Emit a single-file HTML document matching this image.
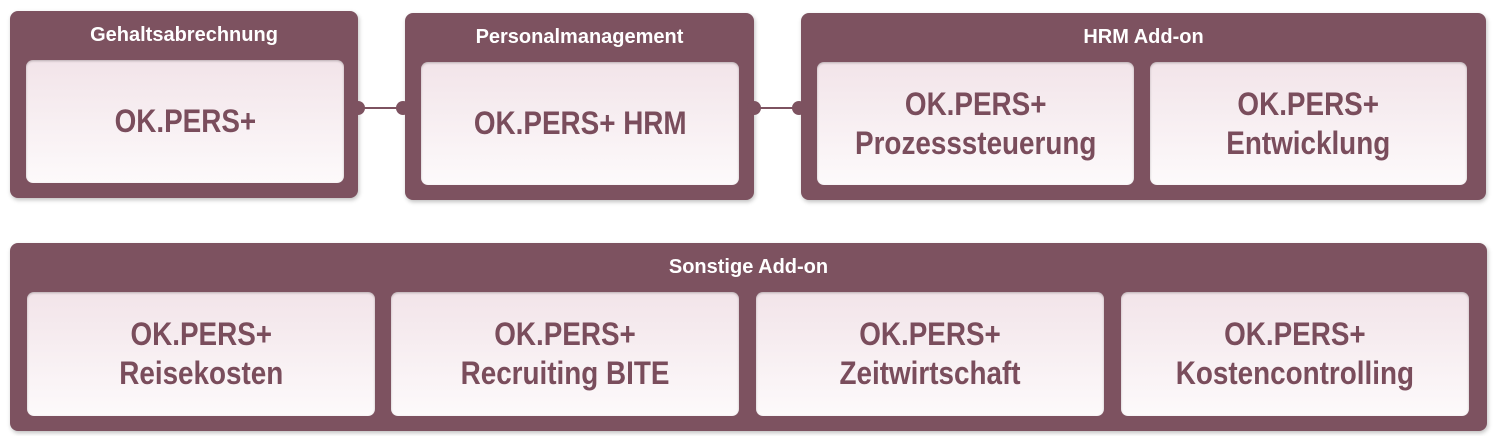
<!DOCTYPE html>
<html><head><meta charset="utf-8"><style>
body{margin:0;width:1500px;height:436px;background:#fff;position:relative;overflow:hidden;font-family:"Liberation Sans",sans-serif;font-weight:bold}
.o{position:absolute;background:#7d5260;border-radius:8px;box-shadow:1px 2px 4px rgba(0,0,0,.25)}
.h{position:absolute;color:#fff;font-size:20px;text-align:center;left:0;right:0;top:13px;transform:scaleX(1.0)}
.i{position:absolute;border-radius:7px;background:linear-gradient(#f2e4e9,#fdfafb);box-shadow:inset 0 1px 2px rgba(0,0,0,.25);display:flex;align-items:center;justify-content:center;text-align:center;color:#7a4d5c;font-size:32px;line-height:39px}
.i span{display:inline-block;transform:scaleX(.87)}
.d{position:absolute;width:14px;height:14px;border-radius:50%;background:#7d5260}
.l{position:absolute;height:1.5px;background:#7d5260}
</style></head><body>
<div class="o" style="left:10px;top:11px;width:348px;height:187px"><div class="h">Gehaltsabrechnung</div></div>
<div class="o" style="left:405px;top:13px;width:349px;height:187px"><div class="h">Personalmanagement</div></div>
<div class="o" style="left:801px;top:13px;width:685px;height:187px"><div class="h">HRM Add-on</div></div>
<div class="o" style="left:10px;top:243px;width:1477px;height:188px"><div class="h">Sonstige Add-on</div></div>
<div class="l" style="left:360px;top:107px;width:44px"></div>
<div class="l" style="left:755px;top:107px;width:44px"></div>
<div class="d" style="left:351px;top:101px"></div>
<div class="d" style="left:396px;top:101px"></div>
<div class="d" style="left:747px;top:101px"></div>
<div class="d" style="left:792px;top:101px"></div>
<div class="i" style="left:26px;top:60px;width:318px;height:123px"><span>OK.PERS+</span></div>
<div class="i" style="left:421px;top:62px;width:318px;height:123px"><span>OK.PERS+ HRM</span></div>
<div class="i" style="left:817px;top:62px;width:317px;height:123px"><span>OK.PERS+<br>Prozesssteuerung</span></div>
<div class="i" style="left:1150px;top:62px;width:317px;height:123px"><span>OK.PERS+<br>Entwicklung</span></div>
<div class="i" style="left:27px;top:292px;width:348px;height:124px"><span>OK.PERS+<br>Reisekosten</span></div>
<div class="i" style="left:391px;top:292px;width:348px;height:124px"><span>OK.PERS+<br>Recruiting BITE</span></div>
<div class="i" style="left:756px;top:292px;width:348px;height:124px"><span>OK.PERS+<br>Zeitwirtschaft</span></div>
<div class="i" style="left:1121px;top:292px;width:348px;height:124px"><span>OK.PERS+<br>Kostencontrolling</span></div>
</body></html>
